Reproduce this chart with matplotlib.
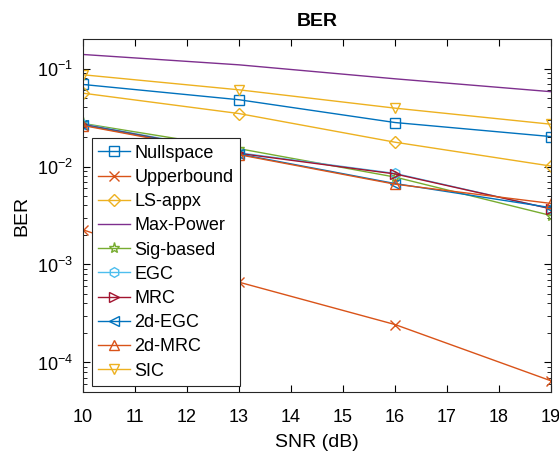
import matplotlib
matplotlib.use("Agg")
import matplotlib.pyplot as plt
from matplotlib.ticker import LogLocator, NullFormatter

plt.rcParams['font.family'] = ['Liberation Sans', 'DejaVu Sans']

snr = [10, 13, 16, 19]
nullspace = [0.0687, 0.048, 0.0281, 0.0202]
upperbound = [0.00226, 0.00066, 0.000244, 0.000065]
ls_appx = [0.056, 0.0347, 0.0177, 0.0101]
max_power = [0.139, 0.109, 0.0785, 0.058]
sig_based = [0.0275, 0.0152, 0.0078, 0.00316]
egc = [0.0272, 0.0138, 0.0085, 0.0037]
mrc = [0.0268, 0.0136, 0.0084, 0.0037]
egc_2d = [0.0266, 0.0134, 0.0067, 0.0038]
mrc_2d = [0.0262, 0.0132, 0.0066, 0.0042]
sic = [0.0863, 0.0606, 0.0394, 0.027]

series = [
    ("Nullspace", nullspace, "#0072BD", "s"),
    ("Upperbound", upperbound, "#D95319", "x"),
    ("LS-appx", ls_appx, "#EDB120", "D"),
    ("Max-Power", max_power, "#7E2F8E", None),
    ("Sig-based", sig_based, "#77AC30", "*"),
    ("EGC", egc, "#4DBEEE", "h"),
    ("MRC", mrc, "#A2142F", ">"),
    ("2d-EGC", egc_2d, "#0072BD", "<"),
    ("2d-MRC", mrc_2d, "#D95319", "^"),
    ("SIC", sic, "#EDB120", "v"),
]

fig = plt.figure(figsize=(5.59, 4.54), dpi=100)
ax = fig.add_axes([83/559, 1 - 392/454, (551-83)/559, (392-39)/454])

for name, vals, col, mk in series:
    ms = 7
    if mk == "D":
        ms = 6
    if mk == "*":
        ms = 8
    ax.semilogy(snr, vals, color=col, marker=mk, markersize=ms, markerfacecolor='none',
                markeredgecolor=col, linewidth=1.0, label=name)

ax.set_xlim(10, 19)
ax.set_ylim(5e-5, 0.2)
ax.set_xticks(range(10, 20))
ax.yaxis.set_major_locator(LogLocator(base=10))
ax.yaxis.set_minor_locator(LogLocator(base=10, subs=range(2, 10)))
ax.yaxis.set_minor_formatter(NullFormatter())
ax.tick_params(which='both', direction='in', top=True, right=True, labelsize=13)
ax.tick_params(which='major', length=5)
ax.tick_params(which='minor', length=3)
ax.tick_params(axis='x', pad=12)
ax.tick_params(axis='y', pad=7)
for s in ax.spines.values():
    s.set_linewidth(0.8)
    s.set_color('#262626')

ax.set_title("BER", fontsize=14, fontweight='bold', pad=9)
ax.set_xlabel("SNR (dB)", fontsize=14, labelpad=6)
ax.set_ylabel("BER", fontsize=14, labelpad=5)

leg = ax.legend(loc='lower left', bbox_to_anchor=(9/468, 6/353), fontsize=13,
                frameon=True, fancybox=False, edgecolor='#262626', framealpha=1,
                handlelength=1.75, labelspacing=0.4, borderpad=0.35, handletextpad=0.25,
                borderaxespad=0)
leg.get_frame().set_linewidth(0.8)

fig.savefig("out.png", dpi=100)
